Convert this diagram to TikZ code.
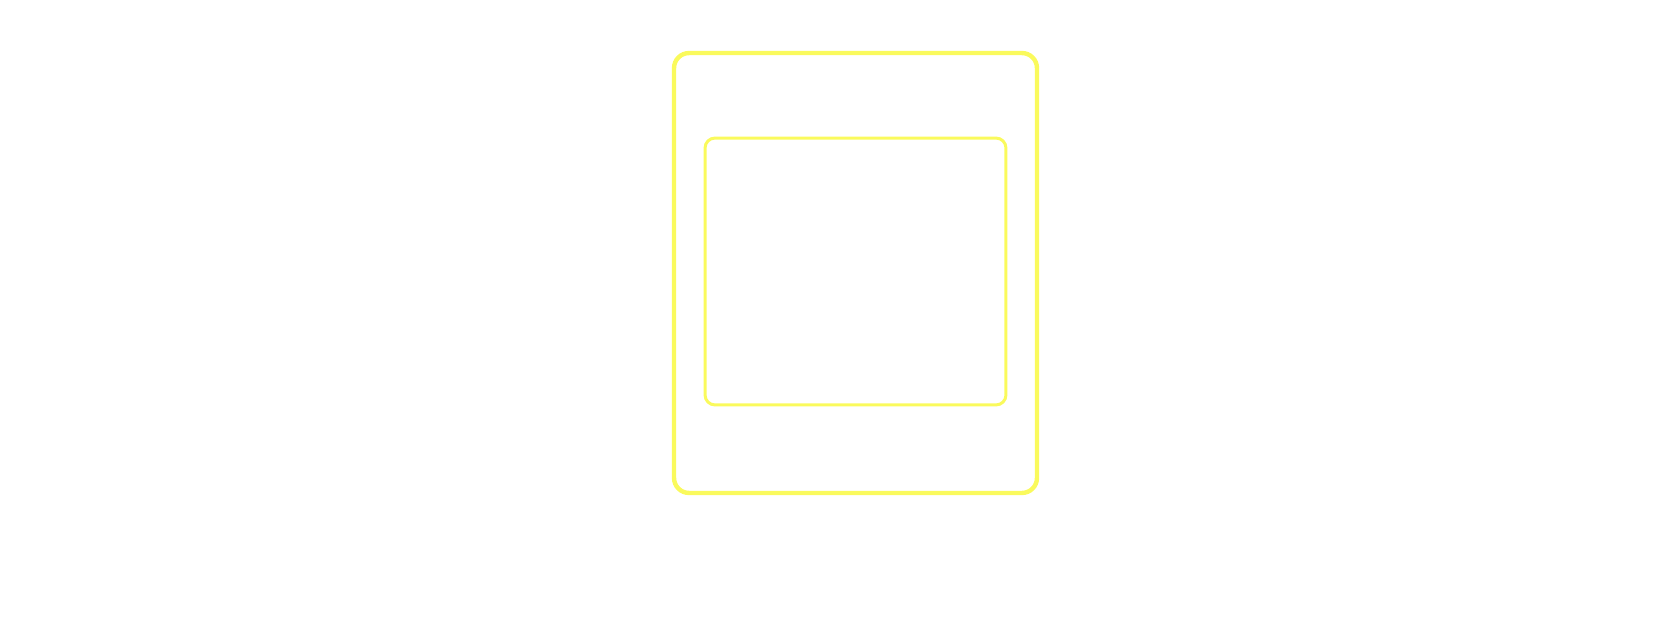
\documentclass[tikz,border=0pt]{standalone}
\usetikzlibrary{positioning}
\definecolor{boxyellow}{RGB}{250,250,92}
\begin{document}
\begin{tikzpicture}[x=0.02cm,y=0.02cm,
    outerbox/.style={draw=boxyellow,line width=2.5pt,rounded corners=0.3cm,minimum width=7.26cm,minimum height=8.8cm,inner sep=0pt},
    innerbox/.style={draw=boxyellow,line width=1.7pt,rounded corners=0.2cm,minimum width=6.02cm,minimum height=5.34cm,inner sep=0pt}]
            \useasboundingbox (0,0) rectangle (1667,620);
            \node[outerbox] (frame) at (855.5,347) {};
            \node[innerbox] (panel) at (855.5,348.5) {};
        \end{tikzpicture}
\end{document}
